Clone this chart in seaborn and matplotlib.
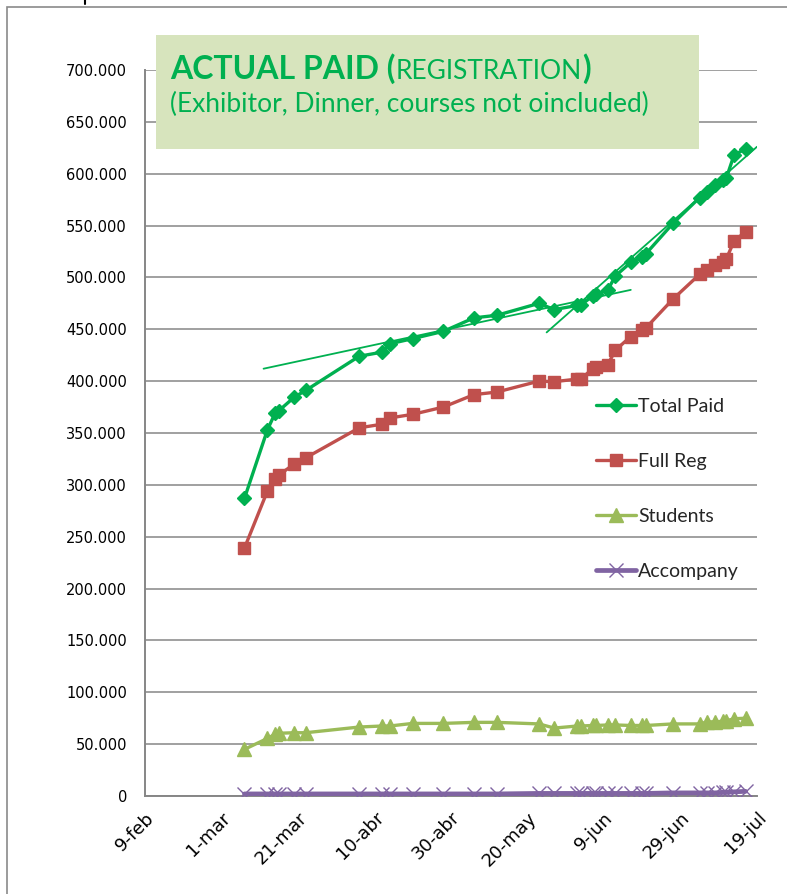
import numpy as np
import pandas as pd
import matplotlib
matplotlib.use("Agg")
import matplotlib.pyplot as plt
import seaborn as sns
from matplotlib.patches import Rectangle
from matplotlib.lines import Line2D
from matplotlib.ticker import FuncFormatter

# ---------------- data (values in thousands) ----------------
dates = ["2011-03-07", "2011-03-13", "2011-03-15", "2011-03-16", "2011-03-20", "2011-03-23",
         "2011-04-06", "2011-04-12", "2011-04-14", "2011-04-20", "2011-04-28", "2011-05-06",
         "2011-05-12", "2011-05-23", "2011-05-27", "2011-06-02", "2011-06-03", "2011-06-06",
         "2011-06-07", "2011-06-10", "2011-06-12", "2011-06-16", "2011-06-19", "2011-06-20",
         "2011-06-27", "2011-07-04", "2011-07-06", "2011-07-08", "2011-07-10", "2011-07-11",
         "2011-07-13", "2011-07-16"]
total_paid = [287, 353, 369, 371.5, 384.5, 391, 424, 428, 436, 441, 448, 461,
              463.5, 475, 469, 473, 473.5, 482, 484, 488, 501.5, 514.5, 520, 523,
              552, 577, 582.5, 589, 594, 596, 618, 624]
full_reg = [239, 294, 306, 309.5, 320, 326, 355, 358.5, 364.5, 368, 375, 387,
            389.5, 400, 399.5, 402, 402, 412, 414, 416, 430, 443, 449, 451.5,
            479, 503, 507, 512, 515, 518, 535, 544]
students = [45, 55.5, 59.5, 60.5, 61, 61, 66.5, 67.5, 67.5, 70, 70, 71,
            71, 69.5, 65.5, 67.5, 67.5, 68, 68, 68.5, 68.5, 68, 68, 68,
            69.5, 69.5, 71.5, 71.5, 72, 72.5, 74.5, 75]
accompany = [2, 2, 2, 2, 2, 2, 2, 2, 2, 2, 2, 2,
             2, 2.5, 2.5, 2.5, 2.5, 2.5, 2.5, 2.5, 2.5, 2.5, 2.5, 2.5,
             3, 3, 3, 3, 3.5, 3.5, 4, 4.5]

trend_early_dates = ["2011-03-12", "2011-06-16"]
trend_early_vals = [412, 488]
trend_late_dates = ["2011-05-25", "2011-07-19"]
trend_late_vals = [447, 626]

series_names = ["Total Paid", "Full Reg", "Students", "Accompany"]
x_tick_labels = ["9-feb", "1-mar", "21-mar", "10-abr", "30-abr", "20-may", "9-jun", "29-jun", "19-jul"]
y_ticks = list(range(0, 701, 50))
title_bold = "ACTUAL PAID ("
title_regular = "REGISTRATION"
title_close = ")"
subtitle = "(Exhibitor, Dinner, courses not oincluded)"

# ---------------- styling ----------------
sns.set_style("white")
plt.rcParams['font.family'] = ['DejaVu Sans']

W, H = 787, 894
fig = plt.figure(figsize=(W / 100, H / 100), dpi=100)
fig.patch.set_facecolor("white")

x0, x1, y_top, y_bot = 145, 757, 70, 796
ax = fig.add_axes([x0 / W, (H - y_bot) / H, (x1 - x0) / W, (y_bot - y_top) / H])

df = pd.DataFrame({
    "date": pd.to_datetime(dates),
    "Total Paid": total_paid,
    "Full Reg": full_reg,
    "Students": students,
    "Accompany": accompany,
})

styles = {
    "Total Paid": dict(color="#00B050", marker="D", markersize=7.5, mew=1),
    "Full Reg": dict(color="#C0504D", marker="s", markersize=8.5, mew=1),
    "Students": dict(color="#9BBB59", marker="^", markersize=10, mew=1),
    "Accompany": dict(color="#8064A2", marker="x", markersize=9.5, mew=1.0),
}
lw_map = {"Total Paid": 2.4, "Full Reg": 2.4, "Students": 2.4, "Accompany": 3.4}

handles = []
for name in series_names[::-1]:
    st = styles[name]
    sns.lineplot(data=df, x="date", y=name, ax=ax, color=st["color"], marker=st["marker"],
                 markersize=st["markersize"], markeredgecolor=st["color"], markeredgewidth=st["mew"],
                 linewidth=lw_map[name], zorder=3, legend=False)
    handles.append(ax.get_lines()[-1])
handles = handles[::-1]

# thin trend lines
tdf1 = pd.DataFrame({"date": pd.to_datetime(trend_early_dates), "v": trend_early_vals})
tdf2 = pd.DataFrame({"date": pd.to_datetime(trend_late_dates), "v": trend_late_vals})
sns.lineplot(data=tdf1, x="date", y="v", ax=ax, color="#00B050", linewidth=1.3, zorder=4, legend=False)
sns.lineplot(data=tdf2, x="date", y="v", ax=ax, color="#00B050", linewidth=1.3, zorder=4, legend=False)

# axes
start = pd.Timestamp("2011-02-09")
xt = pd.date_range(start, periods=len(x_tick_labels), freq="20D")
ax.set_xlim(xt[0], xt[-1])
ax.set_ylim(0, 700)
ax.set_xticks(xt)
ax.set_xticklabels(x_tick_labels, rotation=45, ha="right", va="top", rotation_mode="anchor")
ax.set_yticks(y_ticks)
ax.yaxis.set_major_formatter(FuncFormatter(lambda v, p: "0" if v == 0 else f"{int(round(v * 1000)):,}".replace(",", ".")))
ax.set_xlabel("")
ax.set_ylabel("")

grid_c = "#868686"
ax.yaxis.grid(True, color=grid_c, linewidth=1.1)
ax.xaxis.grid(False)
ax.set_axisbelow(True)
for s in ["top", "right"]:
    ax.spines[s].set_visible(False)
for s in ["left", "bottom"]:
    ax.spines[s].set_color(grid_c)
    ax.spines[s].set_linewidth(1.4)
ax.tick_params(axis="y", direction="out", length=5, width=1.2, color=grid_c, labelsize=10.5, pad=8, labelcolor="black")
ax.tick_params(axis="x", direction="out", length=5, width=1.2, color=grid_c, labelsize=13, pad=4, labelcolor="black")

# legend
leg = ax.legend(handles, series_names, loc="upper left", bbox_to_anchor=(596 / W, (H - 398) / H),
                bbox_transform=fig.transFigure, frameon=False, borderpad=0, borderaxespad=0,
                handlelength=2.05, handletextpad=0.12, labelspacing=1.95,
                prop={"family": ["Lato", "DejaVu Sans"], "size": 14})
leg.set_zorder(6)

# title box
fig.add_artist(Rectangle((156 / W, (H - 149) / H), (699 - 156) / W, (149 - 35) / H,
                         transform=fig.transFigure, facecolor="#D7E4BD", edgecolor="none", zorder=5))
tc = "#00B050"
tfont = ["Lato", "DejaVu Sans"]
base1 = 79
t1 = fig.text(170 / W, (H - base1) / H, title_bold, color=tc, fontsize=23, fontweight="bold",
              family=tfont, va="baseline", ha="left", zorder=7)
fig.canvas.draw()
r = fig.canvas.get_renderer()
bb = t1.get_window_extent(r)
t2 = fig.text(bb.x1 / W, (H - base1) / H, title_regular, color=tc, fontsize=19, fontweight="normal",
              family=tfont, va="baseline", ha="left", zorder=7)
bb2 = t2.get_window_extent(r)
t3 = fig.text(bb2.x1 / W, (H - base1) / H, title_close, color=tc, fontsize=23, fontweight="bold",
              family=tfont, va="baseline", ha="left", zorder=7)
fig.text(170 / W, (H - 112) / H, subtitle, color=tc, fontsize=19, family=tfont,
         va="baseline", ha="left", zorder=7)

# outer chart border and small top tick
fig.add_artist(Rectangle((7 / W, -0.05), 1.2, (H - 7) / H + 0.05, transform=fig.transFigure,
                         fill=False, edgecolor="#8a8a8a", linewidth=1.2, zorder=1))
fig.add_artist(Line2D([85 / W, 85 / W], [1.0, (H - 4) / H], transform=fig.transFigure,
                      color="black", linewidth=1.5))

fig.savefig("out.png", dpi=100)
